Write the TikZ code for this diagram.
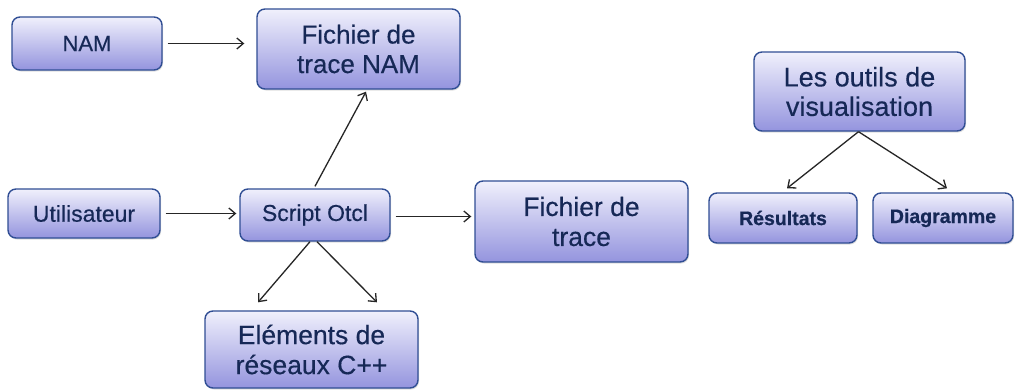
\documentclass[tikz,border=0pt]{standalone}
\usepackage{fontspec}
\setmainfont{Liberation Sans}[FakeBold=0.6]
\newfontfamily\heavyfont{Liberation Sans}[FakeBold=0.4]
\usetikzlibrary{arrows.meta,shadows,calc}
\definecolor{boxtext}{RGB}{22,40,86}
\definecolor{boxborder}{RGB}{48,78,148}
\definecolor{boxtop}{RGB}{240,240,252}
\definecolor{boxbot}{RGB}{148,148,222}
\tikzset{
  box/.style={draw=boxborder, line width=1.4pt, rounded corners=8pt,
    top color=boxtop, bottom color=boxbot, text=boxtext, align=center,
    inner sep=0pt, drop shadow={shadow xshift=1pt, shadow yshift=-1.5pt, opacity=0.25}},
  conn/.style={line width=1.3pt, black!85, -{Straight Barb[length=6.5pt,width=11pt,line width=1.3pt]}},
}
\begin{document}
\begin{tikzpicture}[x=1pt,y=-1pt]
\useasboundingbox (0,0) rectangle (1015,391);
\fill[white] (0,0) rectangle (1015,391);
% nodes
\node[box, minimum width=150pt, minimum height=53pt, font=\heavyfont\fontsize{22}{26}\selectfont] (nam) at (87,43.5) {NAM};
\node[box, minimum width=203pt, minimum height=80pt, font=\heavyfont\fontsize{26}{29.5}\selectfont] (ftn) at (358.5,49) {Fichier de\\trace NAM};
\node[box, minimum width=152pt, minimum height=49pt, font=\heavyfont\fontsize{23}{27}\selectfont] (util) at (84,213.5) {Utilisateur};
\node[box, minimum width=150pt, minimum height=52pt, font=\heavyfont\fontsize{23}{27}\selectfont] (script) at (315,215) {Script Otcl};
\node[box, minimum width=213pt, minimum height=81pt, font=\heavyfont\fontsize{26.5}{30}\selectfont] (ft) at (581.5,221.5) {Fichier de\\trace};
\node[box, minimum width=213pt, minimum height=77pt, font=\heavyfont\fontsize{26.5}{30}\selectfont] (elem) at (311.5,349.5) {Eléments de\\réseaux C++};
\node[box, minimum width=211pt, minimum height=79pt, font=\heavyfont\fontsize{27}{29.5}\selectfont] (outils) at (859.5,91.5) {Les outils de\\visualisation};
\node[box, minimum width=148pt, minimum height=50pt, font=\fontsize{19.5}{23}\selectfont\bfseries] (res) at (783,218) {Résultats};
\node[box, minimum width=140pt, minimum height=50pt, font=\fontsize{19.5}{23}\selectfont\bfseries] (diag) at (943,218) {Diagramme};
% connectors
\draw[conn, shorten <=5pt, shorten >=12pt] (nam.east) -- (nam.east -| ftn.west);
\draw[conn, shorten <=5pt, shorten >=3pt] (util.east) -- (util.east -| script.west);
\draw[conn, shorten <=5pt, shorten >=3pt] ($(script.east)+(0,1.5)$) -- ($(script.east -| ft.west)+(0,1.5)$);
\draw[conn] ($(script.north)+(0,-2)$) -- ($(ftn.south)+(7.5,2)$);
\draw[conn] ($(script.south)+(-5,0)$) -- ($(elem.north)+(-53.5,-8)$);
\draw[conn] ($(script.south)+(2,0)$) -- ($(elem.north)+(65.5,-8)$);
\draw[conn] ($(outils.south)+(-1,0)$) -- ($(res.north)+(4,-4)$);
\draw[conn] ($(outils.south)+(-1,0)$) -- ($(diag.north)+(4,-4)$);
\end{tikzpicture}
\end{document}
